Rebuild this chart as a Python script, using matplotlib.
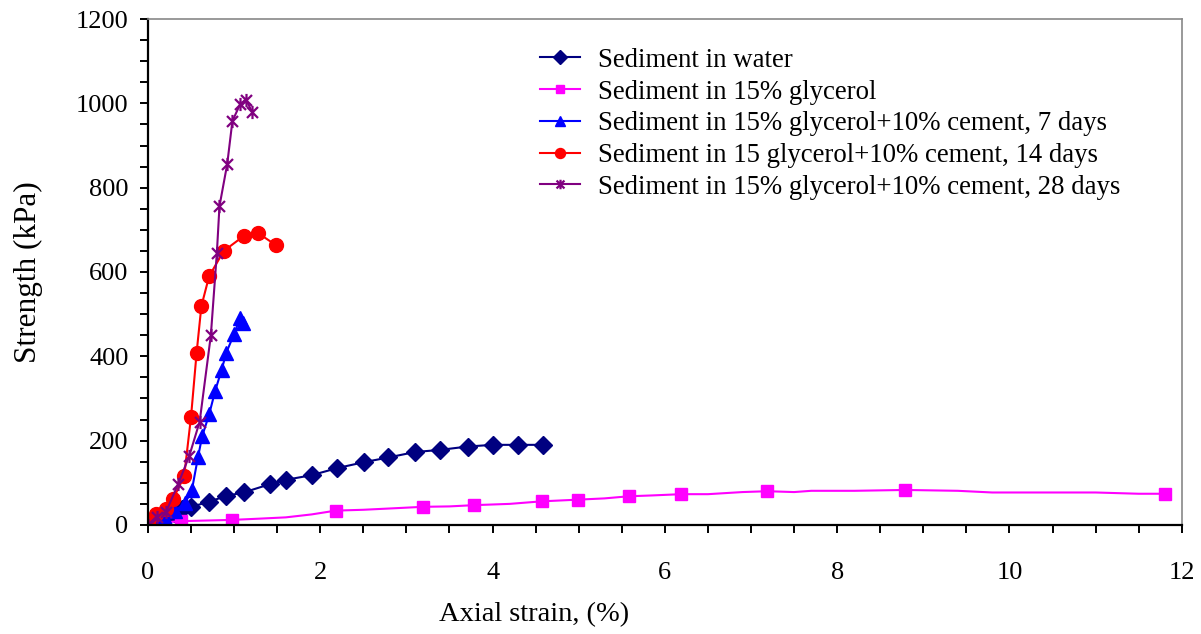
import matplotlib
matplotlib.use("Agg")
import matplotlib.pyplot as plt
from matplotlib.path import Path
from matplotlib.ticker import MultipleLocator

plt.rcParams["font.family"] = ["Liberation Serif", "DejaVu Serif"]

# strain (%) and strength (kPa) for each mix
water_x = [0, 0.1, 0.2, 0.3, 0.4, 0.5, 0.71, 0.91, 1.11, 1.42, 1.6, 1.9, 2.2, 2.51, 2.79,
           3.1, 3.39, 3.71, 4.0, 4.3, 4.59]
water_y = [0, 8, 17, 28, 38, 43, 55, 69, 77, 97, 107, 118, 135, 149, 160,
           173, 178, 186, 190, 190, 190]

glyc_x = [0, 0.38, 0.98, 1.3, 1.6, 1.9, 2.18, 2.5, 2.9, 3.19, 3.5, 3.79, 4.2, 4.57, 4.99,
          5.3, 5.58, 5.85, 6.19, 6.5, 6.9, 7.19, 7.5, 7.7, 8.2, 8.79, 9.4, 9.8, 10.4,
          11.0, 11.5, 11.8]
glyc_y = [3, 9, 12, 15, 18, 25, 34, 36, 40, 43, 44, 47, 50, 56, 60,
          63, 68, 70, 73, 73, 78, 80, 78, 81, 81, 83, 81, 77, 77,
          77, 74, 74]
glyc_marked = [0, 1, 2, 6, 9, 11, 13, 14, 16, 18, 21, 25, 31]

c7_x = [0, 0.1, 0.2, 0.31, 0.43, 0.51, 0.58, 0.63, 0.71, 0.78, 0.855, 0.91, 1.0, 1.07, 1.1]
c7_y = [0, 8, 17, 33, 51, 83, 160, 211, 262, 318, 368, 409, 453, 492, 480]

c14_x = [0, 0.09, 0.21, 0.29, 0.42, 0.5, 0.565, 0.62, 0.71, 0.88, 1.11, 1.28, 1.49]
c14_y = [5, 26, 39, 61, 115, 257, 409, 519, 590, 650, 685, 692, 663]

c28_x = [0, 0.1, 0.21, 0.35, 0.48, 0.6, 0.73, 0.8, 0.83, 0.92, 0.98, 1.07, 1.14, 1.21]
c28_y = [0, 20, 31, 97, 164, 245, 450, 646, 756, 856, 958, 998, 1008, 979]

labels = ["Sediment in water",
          "Sediment in 15% glycerol",
          "Sediment in 15% glycerol+10% cement, 7 days",
          "Sediment in 15 glycerol+10% cement, 14 days",
          "Sediment in 15% glycerol+10% cement, 28 days"]

# asterisk marker: an x with a vertical bar through it
star = Path([(-1, -1), (1, 1), (-1, 1), (1, -1), (0, -1.2), (0, 1.2)],
            [Path.MOVETO, Path.LINETO] * 3)

fig = plt.figure(figsize=(12.01, 6.34), dpi=100)
ax = fig.add_axes([0.1232, 0.172, 0.8608, 0.798])

ax.plot(water_x, water_y, color="#000080", lw=1.5, marker="D", ms=9.5, label=labels[0])
ax.plot(glyc_x, glyc_y, color="#FF00FF", lw=1.5, marker="s", ms=8.5,
        markevery=glyc_marked, label=labels[1])
ax.plot(c7_x, c7_y, color="#0000FF", lw=1.5, marker="^", ms=10.5, label=labels[2])
ax.plot(c14_x, c14_y, color="#FF0000", lw=1.5, marker="o", ms=10, label=labels[3])
ax.plot(c28_x, c28_y, color="#800080", lw=1.5, marker=star, ms=9.5, mew=1.6,
        mfc="none", label=labels[4])

ax.set_xlim(0, 12)
ax.set_ylim(0, 1200)
ax.xaxis.set_major_locator(MultipleLocator(2))
ax.xaxis.set_minor_locator(MultipleLocator(0.5))
ax.yaxis.set_major_locator(MultipleLocator(200))
ax.yaxis.set_minor_locator(MultipleLocator(50))
ax.tick_params(which="both", direction="out", length=6, width=1.4, labelsize=19)
ax.tick_params(axis="y", which="both", pad=8)
ax.tick_params(axis="x", which="both", pad=21)
ax.tick_params(which="both", top=False, right=False)

for side in ["left", "bottom"]:
    ax.spines[side].set_linewidth(1.6)
for side in ["top", "right"]:
    ax.spines[side].set_color("#888888")
    ax.spines[side].set_linewidth(1.2)

ax.set_xlabel("Axial strain, (%)", fontsize=20.5, va="center")
ax.xaxis.set_label_coords(0.373, -0.177)
ax.set_ylabel("Strength (kPa)", fontsize=22.5, va="center")
ax.yaxis.set_label_coords(-0.116, 0.5)

ax.legend(loc="upper left", bbox_to_anchor=(0.379, 0.943), frameon=False, fontsize=19.3,
          borderpad=0, borderaxespad=0, handlelength=1.5, handletextpad=0.66,
          labelspacing=0.25, markerscale=0.72)

fig.savefig("out.png", dpi=100)
